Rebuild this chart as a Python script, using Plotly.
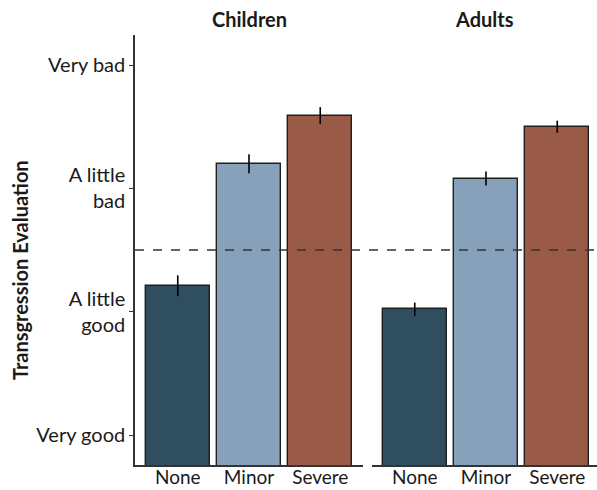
import plotly.graph_objects as go

# Evaluation of transgressions by severity, for two age groups
severity = ["None", "Minor", "Severe"]
children_mean = [2.21, 3.20, 3.59]
children_se = [0.085, 0.077, 0.069]
adults_mean = [2.02, 3.08, 3.50]
adults_se = [0.054, 0.057, 0.049]
bar_colors = ["#2f4f60", "#87a1ba", "#9a5a48"]

y_tickvals = [1, 2, 3, 4]
y_ticktext = ["Very good", "A little<br>good", "A little<br>bad", "Very bad"]
midpoint = 2.5

FONT = "Lato"
TEXT = "#1a1a1a"
LINE = "#333333"

fig = go.Figure()

for means, ses, xa, ya in [
    (children_mean, children_se, "x", "y"),
    (adults_mean, adults_se, "x2", "y2"),
]:
    fig.add_trace(go.Bar(
        x=severity, y=means, xaxis=xa, yaxis=ya, width=0.9,
        marker=dict(color=bar_colors, line=dict(color="#1f1f1f", width=1.4)),
        error_y=dict(type="data", array=ses, visible=True,
                     color="#000000", thickness=1.6, width=0),
        showlegend=False,
    ))

W, H = 597, 490
left, top, bottom = 135, 35, 25
plot_w = W - left
d1_end = (363 - left) / plot_w
d2_start = (372 - left) / plot_w
unit = (363 - 135) / 3.2
r2 = -0.6 + (W - 372) / unit

y_range = [0.757, 4.244]
common_x = dict(type="category", showline=True, linecolor=LINE, linewidth=1.5,
                ticks="", showgrid=False, zeroline=False, automargin=False,
                ticklabelstandoff=-6,
                tickfont=dict(family=FONT, size=19, color=TEXT))

fig.update_layout(
    width=W, height=H,
    margin=dict(l=left, r=0, t=top, b=bottom),
    paper_bgcolor="white", plot_bgcolor="white",
    bargap=0,
    xaxis=dict(domain=[0, d1_end], range=[-0.6, 2.6], anchor="y", **common_x),
    xaxis2=dict(domain=[d2_start, 1], range=[-0.6, r2], anchor="y2", **common_x),
    yaxis=dict(range=y_range, tickvals=y_tickvals, ticktext=y_ticktext,
               showline=True, linecolor=LINE, linewidth=1.5,
               ticks="outside", ticklen=4, tickcolor=LINE, tickwidth=1.2,
               showgrid=False, zeroline=False, anchor="x", automargin=False,
               tickfont=dict(family=FONT, size=20, color=TEXT)),
    yaxis2=dict(range=y_range, showline=False, showticklabels=False, ticks="",
                showgrid=False, zeroline=False, anchor="x2", automargin=False),
    shapes=[dict(type="line", xref="paper", yref="y", x0=0, x1=1,
                 y0=midpoint, y1=midpoint, layer="above",
                 line=dict(color=LINE, width=1.5, dash="dash"))],
    annotations=[
        dict(text="<b>Children</b>", xref="paper", yref="paper",
             x=d1_end / 2, xanchor="center", y=1, yshift=16, yanchor="middle",
             showarrow=False, font=dict(family=FONT, size=20, color=TEXT)),
        dict(text="<b>Adults</b>", xref="paper", yref="paper",
             x=(d2_start + 1) / 2, xanchor="center", y=1, yshift=16,
             yanchor="middle", showarrow=False,
             font=dict(family=FONT, size=20, color=TEXT)),
        dict(text="<b>Transgression Evaluation</b>", xref="paper", yref="paper",
             x=0, xshift=-left + 20, xanchor="center",
             y=(H - bottom - 270) / (H - top - bottom), yanchor="middle",
             textangle=-90, showarrow=False,
             font=dict(family=FONT, size=20, color=TEXT)),
    ],
)

fig.write_html("out.html")
